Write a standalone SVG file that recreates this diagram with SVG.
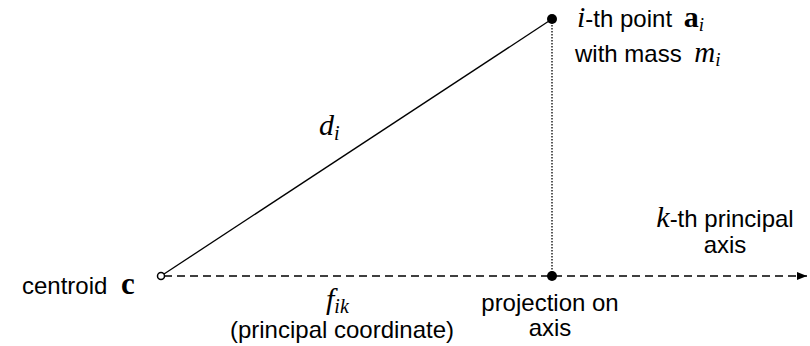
<svg xmlns="http://www.w3.org/2000/svg" width="810" height="346" viewBox="0 0 810 346">
<style>
.s{font-family:"Liberation Sans",Arial,sans-serif;font-size:24px;fill:#000}
.m{font-family:"Liberation Serif","Times New Roman",serif;font-style:italic;fill:#000}
.b{font-family:"Liberation Serif","Times New Roman",serif;font-weight:bold;fill:#000}
.ln{stroke:#000;stroke-width:1.3;fill:none}
</style>
<defs>
<marker id="ah" markerWidth="10" markerHeight="8" refX="10" refY="4" orient="auto" markerUnits="userSpaceOnUse">
<path d="M0,0 L10,4 L0,8 Z" fill="#000"/>
</marker>
</defs>
<rect width="810" height="346" fill="#fff"/>
<g id="connectors">
<line class="ln" x1="164" y1="276" x2="807" y2="276" stroke-dasharray="8,5" marker-end="url(#ah)"/>
<line class="ln" x1="164" y1="274" x2="552" y2="19"/>
<line class="ln" x1="552" y1="19" x2="552" y2="276" stroke-dasharray="1.5,1.5"/>
</g>
<g id="point-a">
<circle cx="552" cy="19" r="5" fill="#000"/>
<text x="577" y="27" class="s"><tspan class="m" font-size="30">i</tspan>-th point <tspan class="b" font-size="30" dx="5">a</tspan><tspan class="m" font-size="19" dy="4">i</tspan></text>
<text x="575" y="62" class="s">with mass <tspan class="m" font-size="29" dx="6">m</tspan><tspan class="m" font-size="19" dy="4">i</tspan></text>
</g>
<g id="centroid">
<circle cx="161" cy="276" r="3.5" fill="#fff" stroke="#000" stroke-width="1.5"/>
<text x="22" y="294" class="s" font-size="25">centroid <tspan class="b" font-size="31" dx="7">c</tspan></text>
</g>
<g id="projection">
<circle cx="552" cy="276" r="5" fill="#000"/>
<text x="550" y="311" class="s" text-anchor="middle">projection on</text>
<text x="550" y="336" class="s" text-anchor="middle">axis</text>
</g>
<g id="axis-label">
<text x="725" y="227" class="s" text-anchor="middle"><tspan class="m" font-size="30">k</tspan>-th principal</text>
<text x="725" y="253" class="s" text-anchor="middle">axis</text>
</g>
<g id="distance">
<text x="319" y="135" class="m" font-size="30">d<tspan font-size="20" dy="5">i</tspan></text>
</g>
<g id="coordinate">
<text x="326" y="309" class="m" font-size="30">f<tspan font-size="20" dy="4">ik</tspan></text>
<text x="342" y="338" class="s" text-anchor="middle">(principal coordinate)</text>
</g>
</svg>
